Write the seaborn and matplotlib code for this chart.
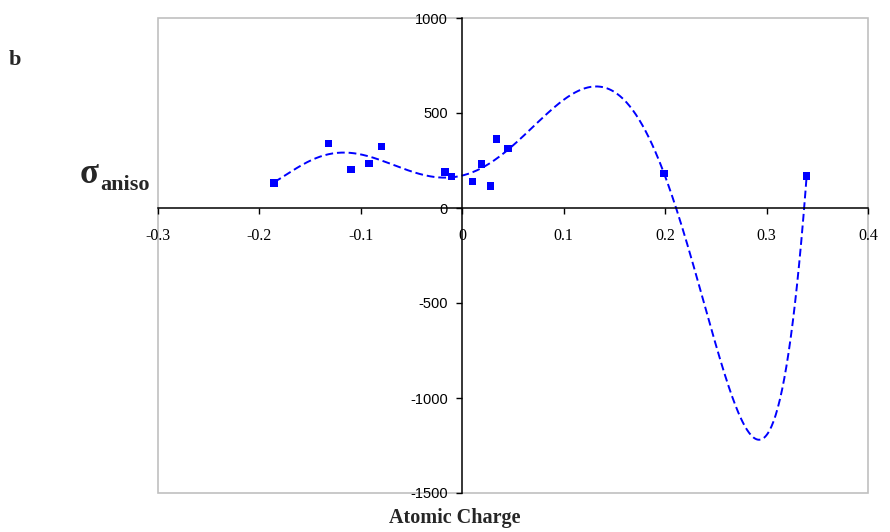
import numpy as np
import pandas as pd
import matplotlib
matplotlib.use("Agg")
import matplotlib.pyplot as plt
from matplotlib.patches import Rectangle
import seaborn as sns

# Data
charge = [-0.1855, -0.1321, -0.1098, -0.0921, -0.0799, -0.0170, -0.0108,
          0.0098, 0.0190, 0.0278, 0.0335, 0.0452, 0.1989, 0.3395]
sigma_aniso = [132, 340, 203, 235, 324, 189, 165,
               141, 232, 116, 363, 314, 182, 168]
x_ticks = [-0.3, -0.2, -0.1, 0, 0.1, 0.2, 0.3, 0.4]
x_tick_labels = ["-0.3", "-0.2", "-0.1", "0", "0.1", "0.2", "0.3", "0.4"]
y_ticks = [-1500, -1000, -500, 0, 500, 1000]
y_tick_labels = ["-1500", "-1000", "-500", "0", "500", "1000"]
trend_order = 6

sns.set_theme(style="white")
plt.rcParams['font.family'] = ['Liberation Sans', 'DejaVu Sans']

df = pd.DataFrame({"charge": charge, "sigma": sigma_aniso})

# Polynomial trendline (6th order, as in the spreadsheet), computed from the data
coef = np.polyfit(df["charge"], df["sigma"], trend_order)
xs = np.linspace(min(charge), max(charge), 500)
trend = pd.DataFrame({"charge": xs, "sigma": np.polyval(coef, xs)})

fig = plt.figure(figsize=(8.9, 5.32), dpi=100)
ax = fig.add_axes([158 / 890, 1 - 493 / 532, (868 - 158) / 890, (493 - 18) / 532])

sns.lineplot(data=trend, x="charge", y="sigma", ax=ax, color="#0000ff",
             linewidth=1.4, linestyle=(0, (4, 2)))
sns.scatterplot(data=df, x="charge", y="sigma", ax=ax, color="#0000ff",
                marker="s", s=28, edgecolor="none", zorder=5)

ax.set_xlabel("")
ax.set_ylabel("")

# Axes crossing at the origin (set before tick labels: this resets the ticks)
ax.spines['left'].set_position(('data', 0))
ax.spines['bottom'].set_position(('data', 0))
for s in ['left', 'bottom']:
    ax.spines[s].set_color('black')
    ax.spines[s].set_linewidth(1.1)
for s in ['top', 'right']:
    ax.spines[s].set_visible(False)
ax.add_patch(Rectangle((0, 0), 1, 1, transform=ax.transAxes, fill=False,
                       edgecolor="#c0c0c0", linewidth=1.2, clip_on=False, zorder=0))

ax.set_xlim(-0.3, 0.4)
ax.set_ylim(-1500, 1000)
ax.set_xticks(x_ticks)
ax.set_xticklabels(x_tick_labels, family='Liberation Serif', fontsize=11.5)
ax.set_yticks(y_ticks)
ax.set_yticklabels(y_tick_labels, family='Liberation Sans', fontsize=10.5)

ax.tick_params(axis='x', which='major', direction='out', length=4, width=1,
               color='black', labelcolor='black', pad=10.2, bottom=True)
ax.tick_params(axis='y', which='major', direction='out', length=4, width=1,
               color='black', labelcolor='black', pad=6.3, left=True)

fig.text(9 / 890, 1 - 65 / 532, "b", fontsize=16, fontweight='bold',
         family='Liberation Serif', va='baseline', ha='left')
fig.text(99 / 890, 1 - 183 / 532, "σ", fontsize=25, fontweight='bold',
         family='Liberation Serif', va='baseline', ha='right')
fig.text(100 / 890, 1 - 190 / 532, "aniso", fontsize=16, fontweight='bold',
         family='Liberation Serif', va='baseline', ha='left')
fig.text(455 / 890, 1 - 523 / 532, "Atomic Charge", fontsize=14.5, fontweight='bold',
         family='Liberation Serif', va='baseline', ha='center')

fig.savefig("out.png", dpi=100, facecolor="white")
